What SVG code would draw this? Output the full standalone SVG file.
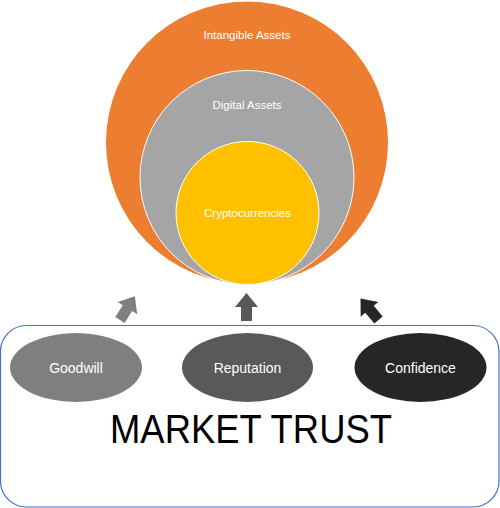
<svg xmlns="http://www.w3.org/2000/svg" width="500" height="508" viewBox="0 0 500 508">
<style>
.circ{stroke:#ffffff;stroke-width:1}
.lbl{font-family:"Liberation Sans","DejaVu Sans",sans-serif;font-size:11.5px;fill:#ffffff;text-anchor:middle}
.olbl{font-family:"Liberation Sans","DejaVu Sans",sans-serif;font-size:14px;fill:#ffffff;text-anchor:middle}
.big{font-family:"Liberation Sans","DejaVu Sans",sans-serif;font-size:40px;fill:#000000;text-anchor:middle}
</style>
<defs>
<path id="arr" d="M-5.5,0 L5.5,0 L5.5,-14 L11.5,-14 L0,-28 L-11.5,-14 L-5.5,-14 Z"/>
</defs>
<rect width="500" height="508" fill="#ffffff"/>
<g id="intangible">
<circle class="circ" cx="247" cy="142.5" r="141.5" fill="#ed7d31"/>
<text class="lbl" x="247" y="39">Intangible Assets</text>
</g>
<g id="digital">
<circle class="circ" cx="247" cy="177.5" r="107" fill="#a5a5a5"/>
<text class="lbl" x="247" y="109">Digital Assets</text>
</g>
<g id="crypto">
<circle class="circ" cx="247.5" cy="213" r="71.5" fill="#ffc000"/>
<text class="lbl" x="247.5" y="217">Cryptocurrencies</text>
</g>
<g id="connectors">
<use href="#arr" transform="translate(120,320) rotate(32)" fill="#7f7f7f"/>
<use href="#arr" transform="translate(246.5,321)" fill="#595959"/>
<use href="#arr" transform="translate(378.5,320) rotate(-40)" fill="#262626"/>
</g>
<g id="market-trust">
<rect x="0.5" y="325.5" width="498.5" height="181.5" rx="26" ry="26" fill="none" stroke="#4472c4" stroke-width="1.2"/>
<text class="big" x="251" y="443" textLength="282" lengthAdjust="spacingAndGlyphs">MARKET TRUST</text>
</g>
<g id="goodwill">
<ellipse cx="76" cy="367.5" rx="66" ry="34.5" fill="#7f7f7f"/>
<text class="olbl" x="76" y="372.5">Goodwill</text>
</g>
<g id="reputation">
<ellipse cx="247.5" cy="367.5" rx="65.5" ry="34.5" fill="#595959"/>
<text class="olbl" x="247.5" y="372.5">Reputation</text>
</g>
<g id="confidence">
<ellipse cx="420.5" cy="367.5" rx="66" ry="34.5" fill="#262626"/>
<text class="olbl" x="420.5" y="372.5">Confidence</text>
</g>
</svg>
